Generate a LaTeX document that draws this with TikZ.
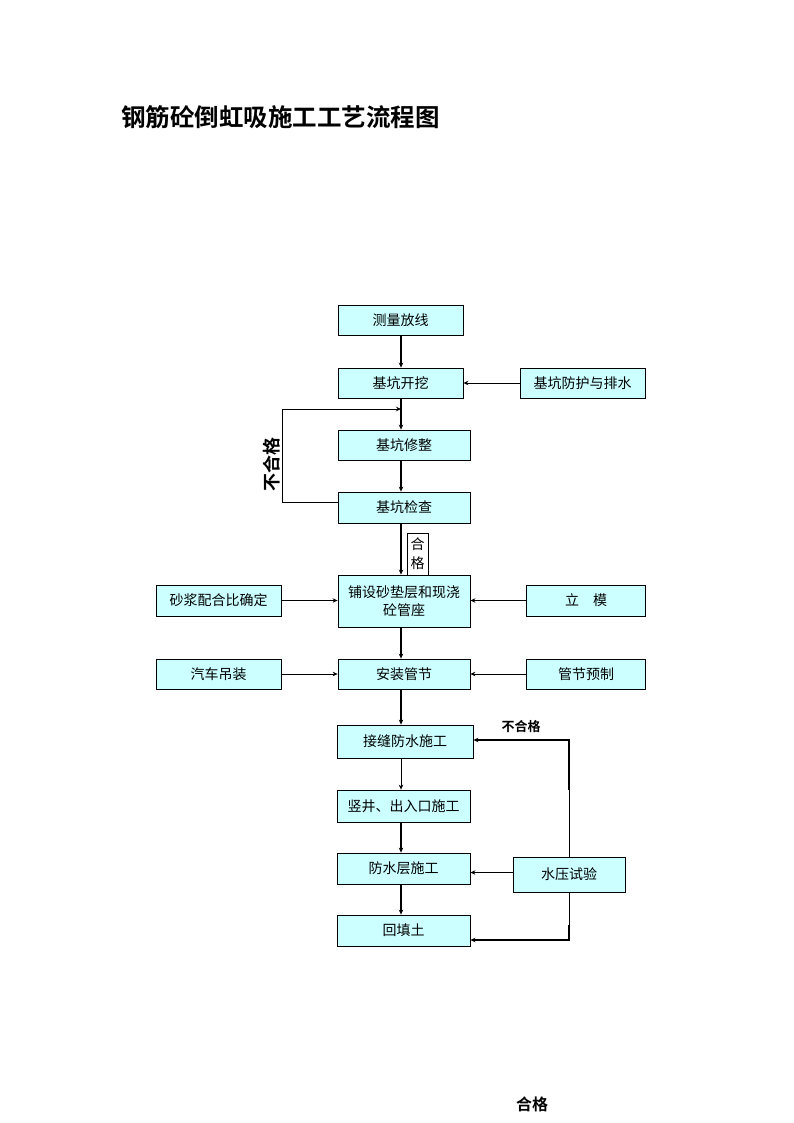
\documentclass[tikz,border=0pt]{standalone}
\usepackage{fontspec}
\newfontfamily\cjk[BoldFont={Noto Sans CJK SC Bold}]{Noto Sans CJK SC}
\usetikzlibrary{arrows.meta}
\definecolor{boxfill}{HTML}{CCFFFF}
\begin{document}
\begin{tikzpicture}[x=1pt,y=-1pt,
  box/.style={draw, fill=boxfill, line width=0.8pt, inner sep=0pt, align=center,
    font=\cjk\fontsize{14}{18}\selectfont},
  thk/.style={line width=1.8pt, -{Stealth[length=5pt,width=4.5pt]}},
  thn/.style={line width=0.8pt, -{Stealth[length=5pt,width=4.5pt]}},
  lbl/.style={font=\cjk\bfseries\fontsize{16}{18}\selectfont, inner sep=0pt}]
\useasboundingbox (0,0) rectangle (794,1123);
\node[anchor=west, font=\cjk\bfseries\fontsize{24.5}{28}\selectfont, inner sep=0pt] (title) at (121,117) {钢筋砼倒虹吸施工工艺流程图};

\node[box, minimum width=125pt, minimum height=30pt] (cl) at (400.5,320) {测量放线};
\node[box, minimum width=125pt, minimum height=30pt] (kw) at (400.5,383) {基坑开挖};
\node[box, minimum width=125pt, minimum height=30pt] (fh) at (582.5,383) {基坑防护与排水};
\node[box, minimum width=132pt, minimum height=30pt] (xz) at (404,445) {基坑修整};
\node[box, minimum width=132pt, minimum height=31pt] (jc) at (404,507.5) {基坑检查};
\node[draw, line width=0.6pt, fill=white, minimum width=21pt, minimum height=42pt, inner sep=0pt, align=center, font=\cjk\fontsize{14}{19}\selectfont] (hg) at (417.5,554) {合\\格};
\node[box, minimum width=132pt, minimum height=52pt] (ps) at (404,601) {铺设砂垫层和现浇\\砼管座};
\node[box, minimum width=125pt, minimum height=31pt] (sj) at (218.5,600.5) {砂浆配合比确定};
\node[box, minimum width=119pt, minimum height=31pt] (lm) at (586,600.5) {立\hspace{1em}模};
\node[box, minimum width=125pt, minimum height=30pt] (qc) at (218.5,674) {汽车吊装};
\node[box, minimum width=132pt, minimum height=30pt] (az) at (404,674) {安装管节};
\node[box, minimum width=119pt, minimum height=30pt] (gj) at (586,674) {管节预制};
\node[box, minimum width=136pt, minimum height=33pt] (jf) at (405,741.5) {接缝防水施工};
\node[box, minimum width=133pt, minimum height=32pt] (sk) at (403.5,806) {竖井、出入口施工};
\node[box, minimum width=133pt, minimum height=31pt] (fs) at (403.5,868.5) {防水层施工};
\node[box, minimum width=133pt, minimum height=31pt] (ht) at (403.5,930.5) {回填土};
\node[box, minimum width=112pt, minimum height=35pt] (sy) at (569,874.5) {水压试验};

\coordinate (mx) at (401,0);
\coordinate (lp) at (282,409);
\coordinate (ux) at (569,740);
\coordinate (dx) at (569,940);

\draw[thk] (cl.south -| mx) -- (kw.north -| mx);
\draw[thk] (kw.south -| mx) -- (xz.north -| mx);
\draw[thk] (xz.south -| mx) -- (jc.north -| mx);
\draw[thk] (jc.south -| mx) -- (ps.north -| mx);
\draw[thk] (ps.south -| mx) -- (az.north -| mx);
\draw[thk] (az.south -| mx) -- (jf.north -| mx);
\draw[thn] (jf.south -| mx) -- (sk.north -| mx);
\draw[thk] (sk.south -| mx) -- (fs.north -| mx);
\draw[thk] (fs.south -| mx) -- (ht.north -| mx);

\draw[thn] (fh.west) -- (kw.east);
\draw[thk] (sj.east) -- (ps.west |- sj.east);
\draw[thk] (lm.west) -- (ps.east |- lm.west);
\draw[thn] (qc.east) -- (az.west);
\draw[thn] (gj.west) -- (az.east);

\draw[thn] ([yshift=5.5pt]jc.west) -| (lp) -- (lp -| mx);
\node[lbl, rotate=90, font=\cjk\bfseries\fontsize{18}{20}\selectfont] (bhg1) at (272,464) {不合格};

\draw[line width=0.8pt] (sy.north) -- (569,790);
\draw[thk] (569,790) -- (ux) -- (jf.east |- ux);
\draw[thn] (sy.west |- fs.east) ++(0,4) coordinate (syl) (syl) -- (fs.east |- syl);
\draw[line width=0.8pt] (sy.south) -- (569,925);
\draw[thk] (569,925) -- (dx) -- (ht.east |- dx);
\node[lbl, font=\cjk\bfseries\fontsize{13}{15}\selectfont] (bhg2) at (521,727) {不合格};
\node[lbl] (hg2) at (532,1104) {合格};
\end{tikzpicture}
\end{document}
